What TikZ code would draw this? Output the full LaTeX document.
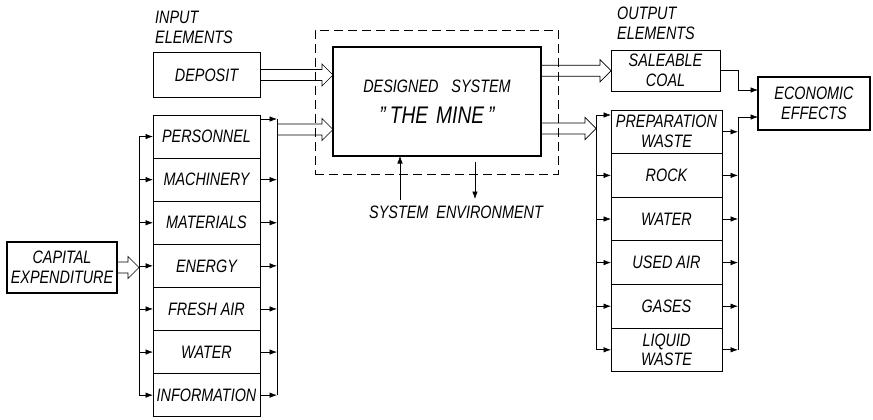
\documentclass[tikz,border=0pt]{standalone}
\usepackage{fontspec}
\setsansfont[FakeStretch=0.8]{Liberation Sans}
\usetikzlibrary{arrows.meta, calc}
\newcommand{\lettering}{\sffamily\itshape\fontsize{18}{20}\selectfont}
\newcommand{\dq}{\symbol{34}}
% hollow (double-line) arrow between two points, horizontal
\newcommand{\fatarrow}[2]{%
  \draw[fat] let \p1=(#1), \p2=(#2) in
    (\x1,\y1+5.5pt) -- (\x2-11pt,\y1+5.5pt) -- (\x2-11pt,\y1+11pt)
    -- (\x2,\y1) -- (\x2-11pt,\y1-11pt) -- (\x2-11pt,\y1-5.5pt)
    -- (\x1,\y1-5.5pt);}

\begin{document}
\begin{tikzpicture}[
    x=1pt, y=-1pt,
    every node/.style={font=\lettering},
    elbox/.style={rectangle, draw=black, line width=0.7pt, outer sep=0pt,
        inner sep=1pt, align=center, minimum width=107pt,
        minimum height=43.1pt},
    outbox/.style={elbox, minimum width=111pt, minimum height=43.6pt},
    thickbox/.style={rectangle, draw=black, line width=1.7pt, outer sep=0pt,
        inner sep=1pt, align=center},
    lbl/.style={inner sep=0pt, align=left, anchor=north west},
    envframe/.style={rectangle, draw=black, line width=0.6pt,
        dash pattern=on 9pt off 5pt, minimum width=243pt,
        minimum height=144pt},
    ln/.style={draw=black, line width=0.65pt},
    arr/.style={ln, -{Latex[length=7.5pt,width=5.5pt]}},
    fat/.style={draw=black, line width=0.7pt, line join=miter},
]
\path[fill=white] (0,0) rectangle (873,420);

% ===== INPUT side =====
\node[lbl] (inlbl) at (155,11) {INPUT\\ELEMENTS};

\node[elbox, minimum height=45pt] (deposit) at (206.5,75) {DEPOSIT};

\node[elbox] (personnel)   at (206.5,136.55) {PERSONNEL};
\node[elbox] (machinery)   at (206.5,179.65) {MACHINERY};
\node[elbox] (materials)   at (206.5,222.75) {MATERIALS};
\node[elbox] (energy)      at (206.5,265.85) {ENERGY};
\node[elbox] (freshair)    at (206.5,308.95) {FRESH AIR};
\node[elbox] (water)       at (206.5,352.05) {WATER};
\node[elbox] (information) at (206.5,395.15) {INFORMATION};

\node[thickbox, line width=1.2pt, minimum width=110pt, minimum height=51pt]
    (capital) at (62,267.5) {CAPITAL\\EXPENDITURE};

% collecting lines left and right of the input column
\coordinate (lbus) at (139,267.5);
\coordinate (rbus) at (277,129.5);

\draw[ln] (personnel.west -| lbus) -- (information.west -| lbus);
\foreach \n in {personnel, machinery, materials, energy, freshair,
    water, information}
    \draw[arr] (\n.west -| lbus) -- (\n.west);

\draw[ln] ([yshift=-4pt]personnel.north east -| rbus)
    -- (information.east -| rbus);
\draw[arr] ([yshift=-4pt]personnel.north east)
    -- ([yshift=-4pt]personnel.north east -| rbus);
\foreach \n in {machinery, materials, energy, freshair, water, information}
    \draw[arr] (\n.east) -- (\n.east -| rbus);

\fatarrow{capital.east}{lbus}

% ===== the mine and its environment =====
\node[envframe] (frame) at (436.5,102) {};
\node[thickbox, minimum width=208pt, minimum height=109pt] (mine)
    at (437,101.5)
    {DESIGNED\hspace{13pt}SYSTEM\\[11pt]
     {\fontsize{24}{24}\selectfont \dq\,THE\hspace{8pt}MINE\,\dq}};

\fatarrow{deposit.east}{mine.west}
\fatarrow{rbus}{mine.west}

\coordinate (envin)  at (400,200);
\coordinate (envout) at (475,199);
\draw[arr] (envin) -- (envin |- mine.south);
\draw[arr] ([yshift=-6pt]envout |- mine.south) -- (envout);
\node (env) at (456,212) {SYSTEM\hspace{8pt}ENVIRONMENT};

% ===== OUTPUT side =====
\node[lbl] (outlbl) at (617,7) {OUTPUT\\ELEMENTS};

\node[elbox, minimum width=109pt, minimum height=41.5pt] (coal)
    at (665.5,70.75) {SALEABLE\\COAL};

\node[outbox] (prepwaste) at (666.5,131.8) {PREPARATION\\WASTE};
\node[outbox] (rock)      at (666.5,175.4) {ROCK};
\node[outbox] (water2)    at (666.5,219.0) {WATER};
\node[outbox] (usedair)   at (666.5,262.6) {USED AIR};
\node[outbox] (gases)     at (666.5,306.2) {GASES};
\node[outbox] (liquid)    at (666.5,349.8) {LIQUID\\WASTE};

\node[thickbox, line width=1.5pt, minimum width=112pt, minimum height=53pt]
    (econ) at (814,103.5) {ECONOMIC\\EFFECTS};

\coordinate (obus) at (596,128.5);
\coordinate (ebus) at (738,117);

\fatarrow{mine.east |- coal.west}{coal.west}
\fatarrow{mine.east |- obus}{obus}

\draw[ln] ([yshift=-5pt]prepwaste.north west -| obus) -- (liquid.west -| obus);
\draw[arr] ([yshift=-5pt]prepwaste.north west -| obus)
    -- ([yshift=-5pt]prepwaste.north west);
\foreach \n in {rock, water2, usedair, gases, liquid}
    \draw[arr] (\n.west -| obus) -- (\n.west);

\draw[ln] (ebus) -- (liquid.east -| ebus);
\foreach \n in {prepwaste, rock, water2, usedair, gases, liquid}
    \draw[arr] (\n.east) -- (\n.east -| ebus);
\draw[arr] (ebus) -- (ebus -| econ.west);
\draw[arr] (coal.east) -| ([yshift=-13pt]econ.north west -| ebus)
    -- ([yshift=-13pt]econ.north west);

\end{tikzpicture}
\end{document}
